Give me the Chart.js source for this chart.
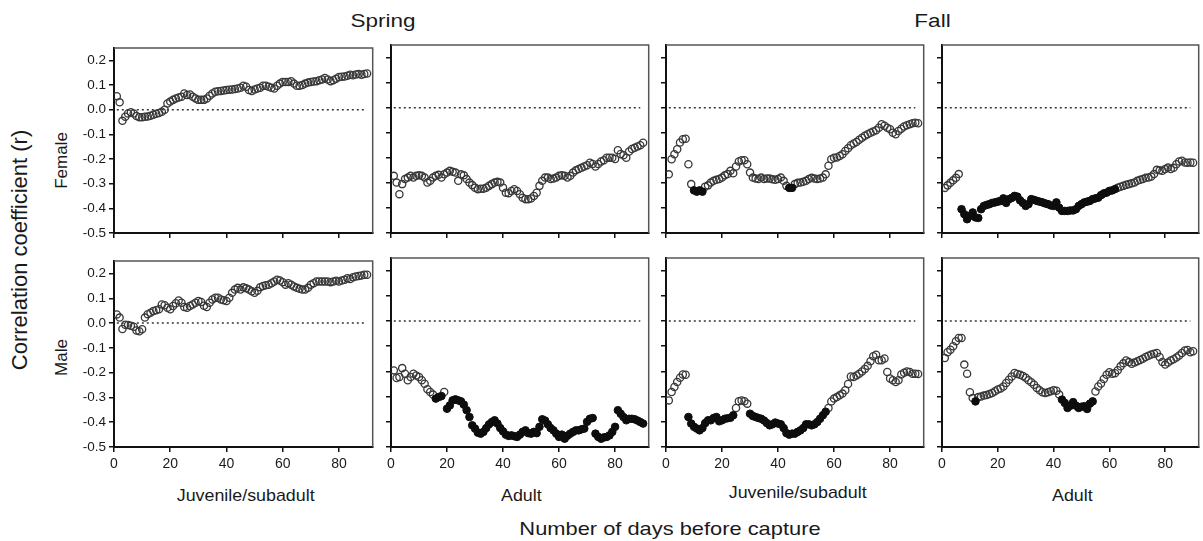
<!DOCTYPE html>
<html>
<head>
<meta charset="utf-8">
<script src="https://cdn.jsdelivr.net/npm/chart.js@4.4.1/dist/chart.umd.min.js"></script>
<style>
  html, body { margin: 0; padding: 0; background: #fff; overflow: hidden; }
  #wrap { position: relative; width: 1203px; height: 541px; background: #fff;
          font-family: 'Liberation Sans', Arial, sans-serif; color: #1a1a1a; overflow: hidden; }
  #wrap canvas { position: absolute; }
  .lbl { position: absolute; white-space: nowrap; line-height: 1; }
</style>
</head>
<body>
<div id="wrap">
  <div class="lbl" id="tSpring">Spring</div>
  <div class="lbl" id="tFall">Fall</div>
  <div class="lbl" id="tYtitle">Correlation coefficient (r)</div>
  <div class="lbl" id="tFemale">Female</div>
  <div class="lbl" id="tMale">Male</div>
  <div class="lbl cat" id="c1">Juvenile/subadult</div>
  <div class="lbl cat" id="c2">Adult</div>
  <div class="lbl cat" id="c3">Juvenile/subadult</div>
  <div class="lbl cat" id="c4">Adult</div>
  <div class="lbl" id="tXtitle">Number of days before capture</div>
</div>
<script>
// --- data (r for day 1..90 before capture) ---
const xTicks = [0, 20, 40, 60, 80];
const yTicks = [-0.5, -0.4, -0.3, -0.2, -0.1, 0.0, 0.1, 0.2];

const femaleSpringJuv = [
  0.055, 0.03, -0.045, -0.028, -0.015, -0.01, -0.015, -0.025, -0.03, -0.03,
  -0.028, -0.027, -0.024, -0.02, -0.016, -0.013, -0.008, 0.0, 0.025, 0.033,
  0.04, 0.046, 0.05, 0.053, 0.066, 0.06, 0.062, 0.053, 0.046, 0.04,
  0.04, 0.04, 0.046, 0.057, 0.066, 0.073, 0.075, 0.076, 0.078, 0.08,
  0.081, 0.082, 0.084, 0.086, 0.089, 0.097, 0.093, 0.08, 0.076, 0.082,
  0.086, 0.089, 0.097, 0.097, 0.093, 0.089, 0.086, 0.097, 0.106, 0.113,
  0.113, 0.113, 0.116, 0.106, 0.097, 0.097, 0.1, 0.106, 0.11, 0.113,
  0.115, 0.116, 0.12, 0.123, 0.129, 0.123, 0.116, 0.12, 0.126, 0.133,
  0.134, 0.135, 0.138, 0.142, 0.14, 0.143, 0.145, 0.142, 0.145, 0.147
];
const femaleSpringAdult = [
  -0.272, -0.299, -0.345, -0.305, -0.285, -0.279, -0.272, -0.279, -0.272, -0.27,
  -0.272, -0.279, -0.299, -0.292, -0.279, -0.272, -0.268, -0.279, -0.266, -0.259,
  -0.252, -0.256, -0.259, -0.292, -0.266, -0.27, -0.285, -0.299, -0.309, -0.319,
  -0.325, -0.323, -0.323, -0.319, -0.312, -0.305, -0.299, -0.296, -0.299, -0.319,
  -0.339, -0.341, -0.332, -0.325, -0.332, -0.345, -0.359, -0.365, -0.365, -0.362,
  -0.352, -0.339, -0.312, -0.292, -0.279, -0.279, -0.285, -0.283, -0.279, -0.272,
  -0.27, -0.272, -0.279, -0.272, -0.259, -0.25, -0.245, -0.24, -0.235, -0.23,
  -0.22, -0.225, -0.235, -0.225, -0.215, -0.21, -0.2, -0.2, -0.2, -0.205,
  -0.17, -0.185, -0.19, -0.2, -0.175, -0.165, -0.16, -0.155, -0.15, -0.14
];
const femaleFallJuv = [
  -0.266, -0.206, -0.186, -0.166, -0.139, -0.126, -0.124, -0.226, -0.305, -0.33,
  -0.335, -0.33, -0.335, -0.315, -0.31, -0.299, -0.292, -0.288, -0.285, -0.279,
  -0.27, -0.265, -0.252, -0.262, -0.235, -0.215, -0.21, -0.21, -0.226, -0.259,
  -0.279, -0.283, -0.285, -0.279, -0.285, -0.283, -0.283, -0.286, -0.288, -0.285,
  -0.279, -0.292, -0.312, -0.32, -0.32, -0.305, -0.3, -0.299, -0.296, -0.292,
  -0.285, -0.28, -0.283, -0.285, -0.283, -0.279, -0.266, -0.232, -0.206, -0.2,
  -0.199, -0.193, -0.186, -0.173, -0.162, -0.15, -0.143, -0.137, -0.128, -0.12,
  -0.112, -0.106, -0.1, -0.095, -0.09, -0.08, -0.066, -0.072, -0.08, -0.086,
  -0.1, -0.106, -0.093, -0.084, -0.075, -0.07, -0.066, -0.062, -0.06, -0.062
];
const femaleFallAdult = [
  -0.32, -0.31, -0.3, -0.29, -0.28, -0.265, -0.405, -0.425, -0.445, -0.432,
  -0.418, -0.438, -0.44, -0.405, -0.392, -0.388, -0.385, -0.38, -0.378, -0.375,
  -0.372, -0.362, -0.38, -0.365, -0.36, -0.352, -0.355, -0.37, -0.38, -0.392,
  -0.385, -0.365, -0.368, -0.372, -0.375, -0.378, -0.382, -0.385, -0.39, -0.392,
  -0.378, -0.399, -0.412, -0.412, -0.412, -0.41, -0.41, -0.405, -0.392, -0.385,
  -0.378, -0.375, -0.372, -0.365, -0.362, -0.359, -0.349, -0.342, -0.339, -0.332,
  -0.33, -0.325, -0.319, -0.315, -0.312, -0.308, -0.305, -0.302, -0.299, -0.292,
  -0.288, -0.285, -0.28, -0.279, -0.275, -0.265, -0.248, -0.25, -0.252, -0.245,
  -0.239, -0.245, -0.24, -0.226, -0.215, -0.212, -0.219, -0.22, -0.219, -0.22
];
const maleSpringJuv = [
  0.035, 0.022, -0.024, -0.007, -0.008, -0.011, -0.015, -0.03, -0.033, -0.025,
  0.022, 0.036, 0.042, 0.049, 0.052, 0.056, 0.075, 0.072, 0.062, 0.056,
  0.069, 0.08, 0.091, 0.082, 0.065, 0.062, 0.069, 0.075, 0.082, 0.089,
  0.085, 0.07, 0.065, 0.082, 0.095, 0.102, 0.102, 0.095, 0.092, 0.089,
  0.102, 0.122, 0.135, 0.142, 0.135, 0.144, 0.14, 0.135, 0.128, 0.122,
  0.13, 0.145, 0.15, 0.153, 0.155, 0.161, 0.168, 0.175, 0.172, 0.165,
  0.155, 0.161, 0.155, 0.148, 0.142, 0.138, 0.135, 0.135, 0.142, 0.155,
  0.161, 0.168, 0.168, 0.168, 0.168, 0.168, 0.165, 0.168, 0.171, 0.168,
  0.172, 0.175, 0.181, 0.178, 0.185, 0.188, 0.19, 0.192, 0.195, 0.195
];
const maleSpringAdult = [
  -0.196, -0.226, -0.222, -0.187, -0.209, -0.235, -0.222, -0.209, -0.216, -0.222,
  -0.235, -0.249, -0.271, -0.282, -0.292, -0.308, -0.302, -0.298, -0.282, -0.348,
  -0.335, -0.315, -0.311, -0.315, -0.319, -0.332, -0.354, -0.381, -0.414, -0.427,
  -0.443, -0.447, -0.44, -0.425, -0.41, -0.401, -0.394, -0.407, -0.425, -0.438,
  -0.451, -0.456, -0.454, -0.457, -0.46, -0.451, -0.44, -0.434, -0.445, -0.447,
  -0.44, -0.445, -0.42, -0.39, -0.395, -0.41, -0.425, -0.434, -0.447, -0.46,
  -0.451, -0.467, -0.455, -0.447, -0.44, -0.434, -0.434, -0.43, -0.427, -0.4,
  -0.388, -0.385, -0.447, -0.46, -0.467, -0.462, -0.46, -0.454, -0.44, -0.42,
  -0.354, -0.368, -0.381, -0.394, -0.388, -0.388, -0.39, -0.395, -0.401, -0.407
];
const maleFallJuv = [
  -0.315, -0.282, -0.262, -0.242, -0.225, -0.212, -0.213, -0.381, -0.407, -0.42,
  -0.427, -0.434, -0.425, -0.405, -0.394, -0.394, -0.385, -0.381, -0.398, -0.394,
  -0.388, -0.386, -0.384, -0.374, -0.345, -0.318, -0.315, -0.318, -0.328, -0.368,
  -0.377, -0.381, -0.385, -0.388, -0.395, -0.405, -0.414, -0.41, -0.403, -0.407,
  -0.41, -0.425, -0.445, -0.451, -0.447, -0.447, -0.44, -0.434, -0.425, -0.41,
  -0.41, -0.414, -0.41, -0.401, -0.388, -0.374, -0.36, -0.345, -0.319, -0.308,
  -0.302, -0.295, -0.288, -0.275, -0.25, -0.22, -0.222, -0.216, -0.209, -0.2,
  -0.19, -0.178, -0.16, -0.14, -0.134, -0.156, -0.156, -0.149, -0.202, -0.228,
  -0.235, -0.242, -0.235, -0.212, -0.205, -0.2, -0.202, -0.209, -0.209, -0.21
];
const maleFallAdult = [
  -0.147, -0.124, -0.114, -0.1, -0.08, -0.067, -0.067, -0.173, -0.209, -0.283,
  -0.306, -0.319, -0.302, -0.3, -0.296, -0.294, -0.29, -0.286, -0.279, -0.272,
  -0.268, -0.26, -0.246, -0.233, -0.22, -0.206, -0.21, -0.213, -0.218, -0.225,
  -0.235, -0.243, -0.253, -0.266, -0.275, -0.283, -0.286, -0.283, -0.279, -0.275,
  -0.277, -0.292, -0.312, -0.325, -0.345, -0.336, -0.322, -0.336, -0.345, -0.34,
  -0.338, -0.349, -0.328, -0.319, -0.28, -0.26, -0.248, -0.23, -0.213, -0.203,
  -0.209, -0.207, -0.195, -0.18, -0.168, -0.157, -0.163, -0.17, -0.165, -0.16,
  -0.155, -0.15, -0.143, -0.138, -0.133, -0.13, -0.127, -0.143, -0.163, -0.173,
  -0.165, -0.157, -0.152, -0.145, -0.137, -0.127, -0.117, -0.115, -0.124, -0.12
];

// day ranges drawn as solid (significant) circles
const femaleSpringJuvFilled = [];
const femaleSpringAdultFilled = [];
const femaleFallJuvFilled = [[10, 13], [44, 45]];
const femaleFallAdultFilled = [[7, 62]];
const maleSpringJuvFilled = [];
const maleSpringAdultFilled = [[16, 18], [20, 90]];
const maleFallJuvFilled = [[8, 24], [30, 57]];
const maleFallAdultFilled = [[12, 12], [43, 54]];

// --- layout of the 2 x 4 grid of panels (pixels) ---
const cols = [ { l: 114, r: 376 }, { l: 391, r: 652 }, { l: 666, r: 927 }, { l: 942, r: 1202 } ];
const rows = [ { t: 45, b: 233 }, { t: 258, b: 447 } ];
const Y_W = 45, X_H = 35, PAD_T = 8, PAD_R = 2;

const panels = [
  { values: femaleSpringJuv,   filled: femaleSpringJuvFilled,   row: 0, col: 0 },
  { values: femaleSpringAdult, filled: femaleSpringAdultFilled, row: 0, col: 1 },
  { values: femaleFallJuv,     filled: femaleFallJuvFilled,     row: 0, col: 2 },
  { values: femaleFallAdult,   filled: femaleFallAdultFilled,   row: 0, col: 3 },
  { values: maleSpringJuv,     filled: maleSpringJuvFilled,     row: 1, col: 0 },
  { values: maleSpringAdult,   filled: maleSpringAdultFilled,   row: 1, col: 1 },
  { values: maleFallJuv,       filled: maleFallJuvFilled,       row: 1, col: 2 },
  { values: maleFallAdult,     filled: maleFallAdultFilled,     row: 1, col: 3 }
];

const AXIS = '#111';
const FRAME = '#555';
const FONT = "'Liberation Sans', Arial, sans-serif";

// top and right sides of the frame (left/bottom come from the axes)
const boxPlugin = {
  id: 'panelBox',
  afterDraw(chart) {
    const { ctx, chartArea: a } = chart;
    ctx.save();
    ctx.strokeStyle = FRAME;
    ctx.lineWidth = 1.5;
    ctx.beginPath();
    ctx.moveTo(a.left, a.top);
    ctx.lineTo(a.right, a.top);
    ctx.lineTo(a.right, a.bottom);
    ctx.stroke();
    ctx.restore();
  }
};

const isFilled = (ranges, d) => ranges.some(([a, b]) => d >= a && d <= b);

const wrap = document.getElementById('wrap');

panels.forEach((p) => {
  const c = cols[p.col], r = rows[p.row];
  const canvas = document.createElement('canvas');
  const w = (c.r - c.l) + Y_W + PAD_R;
  const h = (r.b - r.t) + PAD_T + X_H;
  canvas.width = w; canvas.height = h;
  canvas.style.left = (c.l - Y_W) + 'px';
  canvas.style.top = (r.t - PAD_T) + 'px';
  canvas.style.width = w + 'px'; canvas.style.height = h + 'px';
  wrap.appendChild(canvas);

  const openPts = [], solidPts = [];
  p.values.forEach((v, i) => {
    const d = i + 1;
    (isFilled(p.filled, d) ? solidPts : openPts).push({ x: d, y: v });
  });

  const showY = p.col === 0;
  const showX = p.row === 1;

  new Chart(canvas.getContext('2d'), {
    type: 'scatter',
    data: {
      datasets: [
        {
          type: 'line',
          data: [{ x: 1, y: 0 }, { x: 89, y: 0 }],
          borderColor: '#333',
          borderWidth: 1.5,
          borderDash: [2, 3],
          pointRadius: 0,
          order: 3
        },
        {
          data: openPts,
          pointRadius: 3.6,
          pointBorderWidth: 1.3,
          pointBorderColor: '#383838',
          pointBackgroundColor: 'rgba(255,255,255,0)',
          order: 2
        },
        {
          data: solidPts,
          pointRadius: 3.8,
          pointBorderWidth: 1,
          pointBorderColor: '#0d0d0d',
          pointBackgroundColor: '#0d0d0d',
          order: 1
        }
      ]
    },
    options: {
      responsive: false,
      animation: false,
      devicePixelRatio: 1,
      layout: { padding: { top: PAD_T, right: PAD_R, left: 0, bottom: 0 } },
      plugins: { legend: { display: false }, tooltip: { enabled: false } },
      scales: {
        x: {
          type: 'linear',
          min: 0,
          max: 92,
          afterFit: (s) => { s.height = X_H; },
          afterBuildTicks: (s) => { s.ticks = xTicks.map(v => ({ value: v })); },
          ticks: {
            display: showX,
            padding: 4,
            color: '#1a1a1a',
            font: { family: FONT, size: 14 }
          },
          grid: { drawOnChartArea: false, drawTicks: true, tickLength: 5, color: AXIS, lineWidth: 1.5 },
          border: { display: true, color: AXIS, width: 2 }
        },
        y: {
          type: 'linear',
          min: -0.5,
          max: 0.25,
          afterFit: (s) => { s.width = Y_W; },
          afterBuildTicks: (s) => { s.ticks = yTicks.map(v => ({ value: v })); },
          ticks: {
            display: showY,
            padding: 3,
            color: '#1a1a1a',
            font: { family: FONT, size: 13.5 },
            callback: (v) => (Math.abs(v) < 1e-9 ? 0 : v).toFixed(1)
          },
          grid: { drawOnChartArea: false, drawTicks: true, tickLength: 5, color: AXIS, lineWidth: 1.5 },
          border: { display: true, color: AXIS, width: 2 }
        }
      }
    },
    plugins: [boxPlugin]
  });
});

// --- text around the grid ---
function place(id, cx, cy, size, rotate, sx) {
  const el = document.getElementById(id);
  el.style.fontSize = size + 'px';
  const w = el.offsetWidth, h = el.offsetHeight;
  el.style.left = (cx - w / 2) + 'px';
  el.style.top = (cy - h / 2) + 'px';
  let t = '';
  if (rotate) t += 'rotate(-90deg) ';
  if (sx) t += 'scaleX(' + sx + ')';
  el.style.transform = t;
}
place('tSpring', 383, 21, 18, false, 1.25);
place('tFall', 932, 21, 18, false, 1.25);
place('tYtitle', 20, 250, 22, true, 0);
place('tFemale', 61, 160, 17, true, 0);
place('tMale', 61, 357, 17, true, 0);
place('c1', 245, 495, 17, false, 1.05);
place('c2', 521, 495, 17, false, 1.05);
place('c3', 797, 492, 17, false, 1.05);
place('c4', 1072, 495, 17, false, 1.05);
place('tXtitle', 670, 528, 19, false, 1.15);
</script>
</body>
</html>
